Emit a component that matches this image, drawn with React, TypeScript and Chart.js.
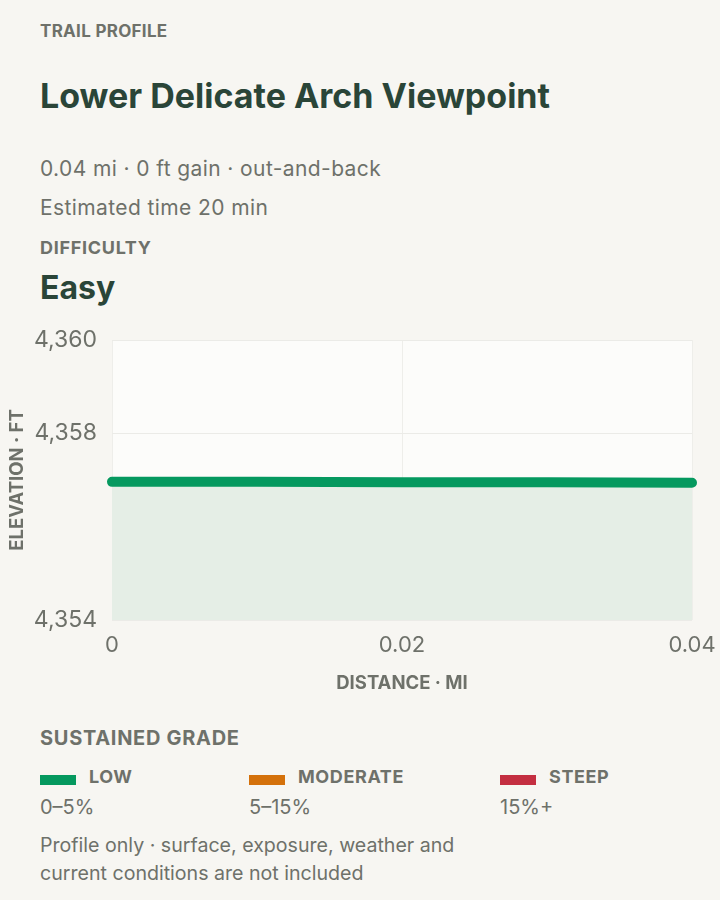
import React, { useEffect, useRef } from "react";
import { Chart, registerables } from "chart.js";

Chart.register(...registerables);

// ---- data ----
const distancesMi = [0, 0.01, 0.02, 0.03, 0.04];
const elevationsFt = [4356.96, 4356.96, 4356.95, 4356.95, 4356.94];
const yTickValues = [4354, 4358, 4360];
const xTickValues = [0, 0.02, 0.04];
const legendNames = ["LOW", "MODERATE", "STEEP"];
const legendRanges = ["0–5%", "5–15%", "15%+"];
const legendColors = ["#05995f", "#d4710b", "#c42f41"];

const FONT = "Inter, 'Noto Sans', sans-serif";
const GRAY = "#6e716a";
const DARK = "#2a4538";
const BG = "#f7f6f2";

const areaBg = {
  id: "areaBg",
  beforeDraw(chart: any) {
    const { ctx, chartArea } = chart;
    ctx.save();
    ctx.fillStyle = "#fcfcfa";
    ctx.fillRect(chartArea.left, chartArea.top, chartArea.right - chartArea.left, chartArea.bottom - chartArea.top);
    ctx.restore();
  },
};

function ElevationChart() {
  const ref = useRef<HTMLCanvasElement | null>(null);
  useEffect(() => {
    if (!ref.current) return;
    const chart = new Chart(ref.current, {
      type: "line",
      data: {
        datasets: [
          {
            data: distancesMi.map((d, i) => ({ x: d, y: elevationsFt[i] })),
            borderColor: legendColors[0],
            borderWidth: 10,
            borderCapStyle: "round",
            borderJoinStyle: "round",
            backgroundColor: "#e5eee6",
            fill: "start",
            pointRadius: 0,
            tension: 0,
            clip: false,
          },
        ],
      },
      options: {
        animation: false,
        responsive: false,
        maintainAspectRatio: false,
        layout: { padding: { left: 0, right: 28, top: 20, bottom: 0 } },
        plugins: { legend: { display: false }, tooltip: { enabled: false } },
        scales: {
          x: {
            type: "linear",
            min: 0,
            max: 0.04,
            afterBuildTicks: (s: any) => {
              s.ticks = xTickValues.map((v) => ({ value: v }));
            },
            afterFit: (s: any) => {
              s.height = 90;
              s.paddingLeft = 0;
              s.paddingRight = 0;
            },
            grid: { color: "#eeeeea", drawTicks: false, tickLength: 0 },
            border: { display: false },
            ticks: {
              padding: 12,
              color: GRAY,
              font: { family: FONT, size: 22 },
              maxRotation: 0,
              callback: (v: any) => String(Number(v)),
            },
            title: {
              display: true,
              text: "DISTANCE · MI",
              color: GRAY,
              font: { family: FONT, size: 18.5, weight: "bold" },
              padding: { top: 0, bottom: 15 },
            },
          },
          y: {
            min: 4354,
            max: 4360,
            afterBuildTicks: (s: any) => {
              s.ticks = yTickValues.map((v) => ({ value: v }));
            },
            afterFit: (s: any) => {
              s.width = 112;
              s.paddingTop = 0;
              s.paddingBottom = 0;
            },
            grid: { color: "#ebebe7", drawTicks: false, tickLength: 0 },
            border: { display: false },
            ticks: {
              padding: 15,
              color: GRAY,
              font: { family: FONT, size: 23 },
              callback: (v: any) => Number(v).toLocaleString("en-US"),
            },
            title: {
              display: true,
              text: "ELEVATION · FT",
              color: GRAY,
              font: { family: FONT, size: 18.5, weight: "bold" },
              padding: { top: 6, bottom: 0 },
            },
          },
        },
      },
      plugins: [areaBg],
    } as any);
    return () => chart.destroy();
  }, []);
  return <canvas ref={ref} width={720} height={390} style={{ position: "absolute", left: 0, top: 320, width: 720, height: 390 }} />;
}

function Line(props: { top: number; size: number; lh?: number; bold?: boolean; color?: string; left?: number; ls?: number; children: any }) {
  const lh = props.lh ?? Math.round(props.size * 1.3);
  return (
    <div
      style={{
        position: "absolute",
        left: props.left ?? 40,
        top: props.top - lh / 2,
        lineHeight: lh + "px",
        fontSize: props.size,
        fontWeight: props.bold ? 700 : 400,
        color: props.color ?? GRAY,
        letterSpacing: (props.ls ?? 0) + "px",
        whiteSpace: "nowrap",
      }}
    >
      {props.children}
    </div>
  );
}

export default function App() {
  useEffect(() => {
    document.body.style.margin = "0";
    document.body.style.background = BG;
  }, []);
  const cols = [40, 249, 500];
  return (
    <div style={{ position: "relative", width: 720, height: 900, background: BG, fontFamily: FONT, overflow: "hidden" }}>
      <Line top={31} size={17} bold ls={0.3}>TRAIL PROFILE</Line>
      <Line top={96} size={34} bold color={DARK}>Lower Delicate Arch Viewpoint</Line>
      <Line top={168.5} size={21} ls={0.4}>0.04 mi · 0 ft gain · out-and-back</Line>
      <Line top={207} size={21} ls={0.4}>Estimated time 20 min</Line>
      <Line top={247.5} size={18} bold ls={0.7}>DIFFICULTY</Line>
      <Line top={287.5} size={32} bold color={DARK}>Easy</Line>
      <ElevationChart />
      <Line top={737.5} size={20} bold ls={0.7}>SUSTAINED GRADE</Line>
      {legendNames.map((n, i) => (
        <React.Fragment key={n}>
          <div style={{ position: "absolute", left: cols[i], top: 775, width: 36, height: 10, background: legendColors[i] }} />
          <Line top={776.5} left={cols[i] + 49} size={18} bold ls={0.6}>{n}</Line>
          <Line top={807} left={cols[i]} size={20}>{legendRanges[i]}</Line>
        </React.Fragment>
      ))}
      <Line top={845} size={19.6}>Profile only · surface, exposure, weather and</Line>
      <Line top={873} size={19.6}>current conditions are not included</Line>
    </div>
  );
}
